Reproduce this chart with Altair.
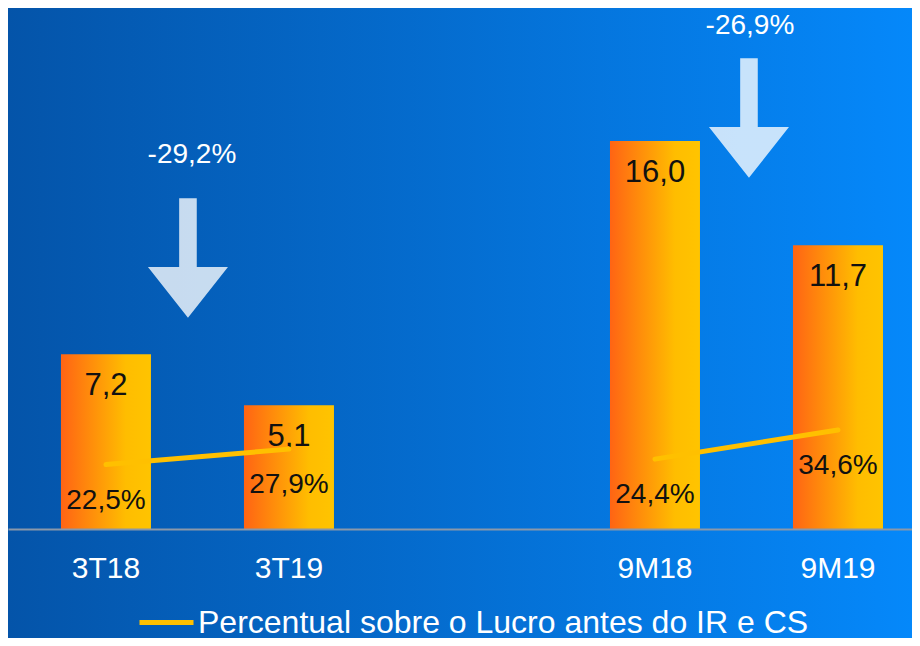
import altair as alt
import pandas as pd

# ---------------- data ----------------
categories = ["3T18", "3T19", "9M18", "9M19"]
periods = ["3T", "3T", "9M", "9M"]
values = [7.2, 5.1, 16.0, 11.7]
pct_values = [22.5, 27.9, 24.4, 34.6]
change_labels = ["-29,2%", "-26,9%"]
change_anchor = ["3T18", "9M18"]
legend_label = "Percentual sobre o Lucro antes do IR e CS"

x_domain = ["3T18", "3T19", " ", "9M18", "9M19"]


def br(v, suffix=""):
    return f"{v:.1f}".replace(".", ",") + suffix


df = pd.DataFrame({
    "cat": categories,
    "periodo": periods,
    "valor": values,
    "pct": pct_values,
    "valor_txt": [br(v) for v in values],
    "pct_txt": [br(v, "%") for v in pct_values],
    "serie": [legend_label] * len(categories),
})

# ---------------- styles ----------------
FONT = "Liberation Sans"
W, H = 904, 521
TOTAL_H = 630

xenc = alt.X(
    "cat:N",
    sort=x_domain,
    scale=alt.Scale(domain=x_domain, paddingInner=0.5082, paddingOuter=0.224, align=0.646),
    axis=alt.Axis(
        title=None, labelAngle=0, ticks=False, labelPadding=24,
        labelFontSize=30, labelColor="white", labelFont=FONT,
        domainColor="#8a98aa", domainWidth=2, grid=False, zindex=1,
    ),
)
ybar_scale = alt.Scale(domain=[0, 21.48], nice=False, zero=True)
yline_scale = alt.Scale(domain=[0, 182], nice=False, zero=True)

bg_grad = alt.LinearGradient(
    gradient="linear", x1=0, x2=1, y1=0, y2=0,
    stops=[alt.GradientStop(color="#0454a9", offset=0),
           alt.GradientStop(color="#0588fa", offset=1)],
)
bar_grad = alt.LinearGradient(
    gradient="linear", x1=0, x2=1, y1=0, y2=0,
    stops=[alt.GradientStop(color="#ff6414", offset=0),
           alt.GradientStop(color="#ffbd00", offset=0.72),
           alt.GradientStop(color="#ffc400", offset=1)],
)

background = alt.Chart(alt.Data(values=[{}])).mark_rect(fill=bg_grad).encode(
    x=alt.value(0), x2=alt.value(W), y=alt.value(0), y2=alt.value(TOTAL_H)
)

base = alt.Chart(df)

bars = base.mark_bar(fill=bar_grad).encode(
    x=xenc,
    y=alt.Y("valor:Q", scale=ybar_scale, axis=None),
)

bar_text = base.mark_text(
    font=FONT, fontSize=31, color="#111111", baseline="alphabetic", dy=41
).encode(
    x=alt.X("cat:N", sort=x_domain),
    y=alt.Y("valor:Q", scale=ybar_scale, axis=None),
    text="valor_txt:N",
)

line = base.mark_line(strokeWidth=5, strokeCap="round").encode(
    x=alt.X("cat:N", sort=x_domain),
    y=alt.Y("pct:Q", scale=yline_scale, axis=None),
    detail="periodo:N",
    color=alt.Color(
        "serie:N",
        scale=alt.Scale(range=["#ffc000"]),
        legend=alt.Legend(
            title=None, orient="none", legendX=129, legendY=585,
            symbolType="stroke", symbolSize=2916, symbolStrokeWidth=5,
            labelFontSize=32, labelColor="white", labelFont=FONT,
            labelLimit=1000, labelOffset=2, padding=0,
        ),
    ),
)

pct_text = base.mark_text(
    font=FONT, fontSize=28, color="#111111", baseline="alphabetic", dy=44
).encode(
    x=alt.X("cat:N", sort=x_domain),
    y=alt.Y("pct:Q", scale=yline_scale, axis=None),
    text="pct_txt:N",
)

ARROW = "M -0.22 -1.72 L 0.22 -1.72 L 0.22 0 L 1 0 L 0 1.27 L -1 0 L -0.22 0 Z"
# annotation placement (pixels): arrow x offset, arrow y, label x offset, label baseline y
annot_style = [(82, 259, 86, 155), (94, 119, 95, 26)]

annots = []
for lab, anc, (ax_off, ay, lx_off, ly) in zip(change_labels, change_anchor, annot_style):
    d = pd.DataFrame({"cat": [anc], "txt": [lab]})
    c = alt.Chart(d)
    annots.append(
        c.mark_point(shape=ARROW, size=6400, filled=True, color="white",
                     opacity=0.78, strokeWidth=0, xOffset=ax_off).encode(
            x=alt.X("cat:N", sort=x_domain), y=alt.value(ay)
        )
    )
    annots.append(
        c.mark_text(font=FONT, fontSize=28, color="white", baseline="alphabetic",
                    align="center", xOffset=lx_off).encode(
            x=alt.X("cat:N", sort=x_domain), y=alt.value(ly), text="txt:N"
        )
    )

chart = alt.layer(background, bars, bar_text, line, pct_text, *annots).resolve_scale(
    y="independent"
).properties(
    width=W, height=H, autosize="none",
    padding={"left": 0, "top": 0, "right": 0, "bottom": TOTAL_H - H},
    background="#0a6dd0",
).configure_view(stroke=None)

chart.save("out.html", embed_options={"renderer": "svg", "actions": False})
